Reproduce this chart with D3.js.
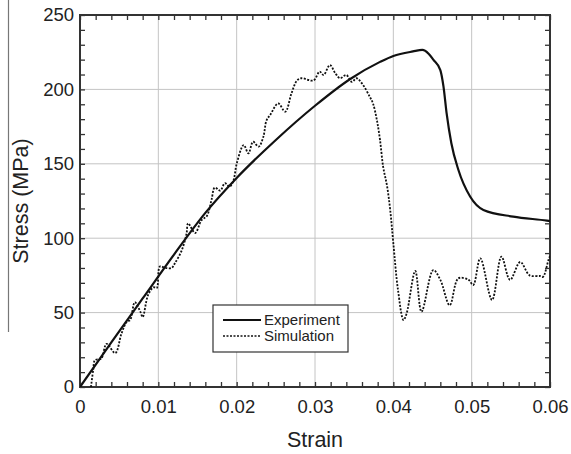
<!DOCTYPE html>
<html>
<head>
<meta charset="utf-8">
<script src="https://cdn.jsdelivr.net/npm/d3@7"></script>
<style>
  body { margin: 0; background: #fff; }
  svg { display: block; font-family: "Liberation Sans", Arial, sans-serif; }
</style>
</head>
<body>
<svg id="chart" width="571" height="454"></svg>
<script>
// experiment curve (solid)
const expStrain = [0, 0.004, 0.008, 0.012, 0.016, 0.02, 0.025, 0.03, 0.0345, 0.0383, 0.04, 0.0425, 0.0437,
  0.0445, 0.0451, 0.046, 0.0464, 0.0468, 0.0474, 0.0483, 0.0498, 0.0515, 0.0553, 0.0596, 0.06];
const expStress = [0, 30, 59.5, 89, 117, 140.5, 166, 189, 207, 218.5, 222.5, 225.5, 226.5,
  224, 220, 213, 202, 184, 164, 146, 128, 119, 114.5, 111.8, 111.5];

// simulation curve (dotted)
const simStrain = [0.0014, 0.0017, 0.0019, 0.0027, 0.0034, 0.0045, 0.0053, 0.006, 0.0064, 0.007, 0.0077, 0.008, 0.0087,
  0.0094, 0.0098, 0.0102, 0.0109, 0.0117, 0.0121, 0.013, 0.0136, 0.0138, 0.0147, 0.0155, 0.0162, 0.0168, 0.0172,
  0.0179, 0.0185, 0.0191, 0.0196, 0.02, 0.0209, 0.0215, 0.0221, 0.0228, 0.0234, 0.0238, 0.0243, 0.0253, 0.0262,
  0.027, 0.0277, 0.0283, 0.0298, 0.0306, 0.0311, 0.0319, 0.0326, 0.0332, 0.034, 0.0347, 0.0353, 0.036, 0.037,
  0.0374, 0.0379, 0.0383, 0.0387, 0.0392, 0.0396, 0.04, 0.0406, 0.0413, 0.0417, 0.0428, 0.0436, 0.0451, 0.046,
  0.0472, 0.0483, 0.0496, 0.0502, 0.0511, 0.0526, 0.0538, 0.0549, 0.0562, 0.0574, 0.0587, 0.0591, 0.0598, 0.06];
const simStress = [0, 12, 18, 19, 29, 22.8, 36, 44, 45, 57, 50.6, 47, 62,
  67, 66.5, 81, 80, 80, 83, 92, 103, 110, 103.5, 112, 115, 126, 134,
  132, 137, 134.6, 139, 150, 162.6, 157, 164.8, 161.5, 168, 179, 183, 190.6, 185,
  197.4, 206, 207.5, 206, 212, 209.7, 216.4, 210.8, 207.5, 209.7, 205, 207.5, 204, 195,
  190.6, 179.4, 166, 148, 135, 119, 96.6, 65, 45, 49.5, 78, 50.6, 78.6, 72,
  55, 73, 72, 68.5, 86.5, 58.5, 87.6, 72, 84, 75, 74.6, 74, 85.3, 88];

const xTicks = [0, 0.01, 0.02, 0.03, 0.04, 0.05, 0.06];
const yTicks = [0, 50, 100, 150, 200, 250];
const seriesNames = ['Experiment', 'Simulation'];

const svg = d3.select('#chart');
const L = 80, R = 550, T = 15, B = 387;
const x = d3.scaleLinear().domain([0, 0.06]).range([L, R]);
const y = d3.scaleLinear().domain([0, 250]).range([B, T]);
const FONT = '"Liberation Sans", Arial, sans-serif';

// stray page edge line at far left
svg.append('line').attr('x1', 8.5).attr('x2', 8.5).attr('y1', 0).attr('y2', 332)
  .attr('stroke', '#777').attr('stroke-width', 1.2);

// grid
const grid = svg.append('g').attr('stroke', '#c4c4c4').attr('stroke-width', 1);
xTicks.slice(1, -1).forEach(t => grid.append('line').attr('x1', x(t)).attr('x2', x(t)).attr('y1', T).attr('y2', B));
yTicks.slice(1, -1).forEach(t => grid.append('line').attr('x1', L).attr('x2', R).attr('y1', y(t)).attr('y2', y(t)));

// ticks on all sides, pointing inward
const minorX = d3.range(0, 0.0601, 0.002), minorY = d3.range(0, 251, 10);
const ax = svg.append('g');
ax.append('g').attr('transform', `translate(0,${B})`)
  .call(d3.axisTop(x).tickValues(minorX).tickSize(5).tickFormat(''));
ax.append('g').attr('transform', `translate(0,${T})`)
  .call(d3.axisBottom(x).tickValues(minorX).tickSize(5).tickFormat(''));
ax.append('g').attr('transform', `translate(${L},0)`)
  .call(d3.axisRight(y).tickValues(minorY).tickSize(5).tickFormat(''));
ax.append('g').attr('transform', `translate(${R},0)`)
  .call(d3.axisLeft(y).tickValues(minorY).tickSize(5).tickFormat(''));
ax.selectAll('.domain').remove();
ax.selectAll('line').attr('stroke', '#333').attr('stroke-width', 1.3);

// tick labels
svg.append('g').attr('transform', `translate(0,${B})`)
  .call(d3.axisBottom(x).tickValues(xTicks).tickSize(0).tickPadding(13).tickFormat(d => d === 0 ? '0' : d3.format('.2f')(d)))
  .call(g => g.select('.domain').remove())
  .selectAll('text').attr('font-size', 18.5).attr('fill', '#222').attr('font-family', FONT);
svg.append('g').attr('transform', `translate(${L},0)`)
  .call(d3.axisLeft(y).tickValues(yTicks).tickSize(0).tickPadding(6))
  .call(g => g.select('.domain').remove())
  .selectAll('text').attr('font-size', 18.5).attr('fill', '#222').attr('font-family', FONT);

// frame
svg.append('rect').attr('x', L).attr('y', T).attr('width', R - L).attr('height', B - T)
  .attr('fill', 'none').attr('stroke', '#333').attr('stroke-width', 2);

// axis titles
svg.append('text').attr('x', (L + R) / 2).attr('y', 447).attr('text-anchor', 'middle')
  .attr('font-size', 21.5).attr('fill', '#222').text('Strain');
svg.append('text').attr('transform', `translate(28,${(T + B) / 2}) rotate(-90)`).attr('text-anchor', 'middle')
  .attr('font-size', 21.5).attr('fill', '#222').text('Stress (MPa)');

// curves
const expData = expStrain.map((s, i) => [s, expStress[i]]);
const simData = simStrain.map((s, i) => [s, simStress[i]]);
svg.append('clipPath').attr('id', 'clip').append('rect')
  .attr('x', L).attr('y', T).attr('width', R - L).attr('height', B - T);
const plot = svg.append('g').attr('clip-path', 'url(#clip)');
plot.append('path').datum(simData)
  .attr('d', d3.line().x(d => x(d[0])).y(d => y(d[1])).curve(d3.curveCatmullRom.alpha(0.5)))
  .attr('fill', 'none').attr('stroke', '#111').attr('stroke-width', 1.8).attr('stroke-dasharray', '2,1.5');
plot.append('path').datum(expData)
  .attr('d', d3.line().x(d => x(d[0])).y(d => y(d[1])).curve(d3.curveMonotoneX))
  .attr('fill', 'none').attr('stroke', '#111').attr('stroke-width', 2.2);

// legend
const lg = svg.append('g').attr('transform', 'translate(213,305)');
lg.append('rect').attr('width', 135).attr('height', 47).attr('fill', '#fff').attr('stroke', '#333').attr('stroke-width', 1.2);
seriesNames.forEach((name, i) => {
  const yy = 15 + i * 16;
  lg.append('line').attr('x1', 10).attr('x2', 48).attr('y1', yy).attr('y2', yy)
    .attr('stroke', '#111').attr('stroke-width', i === 0 ? 2 : 1.6)
    .attr('stroke-dasharray', i === 0 ? null : '2,1.5');
  lg.append('text').attr('x', 51).attr('y', yy + 5).attr('font-size', 15).attr('fill', '#222').text(name);
});
</script>
</body>
</html>
